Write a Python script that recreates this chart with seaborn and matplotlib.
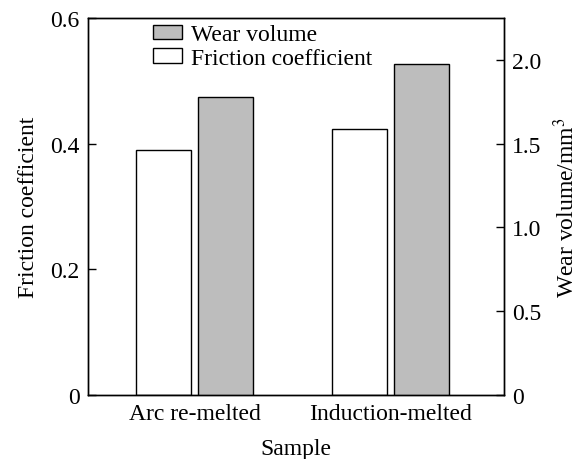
import matplotlib
matplotlib.use("Agg")
import matplotlib.pyplot as plt
import seaborn as sns
import pandas as pd
from matplotlib.patches import Patch

samples = ["Arc re-melted", "Induction-melted"]
friction = [0.390, 0.424]
wear = [1.775, 1.977]
metrics = ["Friction coefficient", "Wear volume"]

sns.set_theme(style="ticks")
plt.rcParams['font.family'] = ['Liberation Serif', 'DejaVu Serif']
plt.rcParams['mathtext.fontset'] = 'stix'
plt.rcParams['text.color'] = 'black'

df_f = pd.DataFrame({"Sample": samples, "value": friction, "Metric": metrics[0]})
df_w = pd.DataFrame({"Sample": samples, "value": wear, "Metric": metrics[1]})

fig = plt.figure(figsize=(5.79, 4.6), dpi=100)
ax = fig.add_axes([0.152, 0.139, 0.718, 0.820])
ax2 = ax.twinx()

pal = {metrics[0]: "white", metrics[1]: "#bdbdbd"}
sns.barplot(data=df_f, x="Sample", y="value", hue="Metric", hue_order=metrics,
            palette=pal, width=0.633, gap=0.113, dodge=True, edgecolor="black", linewidth=1.0,
            ax=ax, legend=False, order=samples)
sns.barplot(data=df_w, x="Sample", y="value", hue="Metric", hue_order=metrics,
            palette=pal, width=0.633, gap=0.113, dodge=True, edgecolor="black", linewidth=1.0,
            ax=ax2, legend=False, order=samples)

ax.set_xlim(-0.546, 1.577)
ax.set_ylim(0, 0.6)
ax2.set_ylim(0, 2.25)
ax.set_yticks([0, 0.2, 0.4, 0.6])
ax.set_yticklabels(["0", "0.2", "0.4", "0.6"])
ax2.set_yticks([0, 0.5, 1.0, 1.5, 2.0])
ax2.set_yticklabels(["0", "0.5", "1.0", "1.5", "2.0"])

fs = 17
ax.tick_params(axis="y", direction="in", length=6, width=1, labelsize=fs, colors="black", pad=6)
ax2.tick_params(axis="y", direction="in", length=6, width=1, labelsize=fs, colors="black", pad=6)
ax.tick_params(axis="x", length=0, labelsize=fs, colors="black", pad=6)
ax.set_xlabel("Sample", fontsize=fs, color="black", labelpad=10)
ax.set_ylabel("Friction coefficient", fontsize=fs, color="black", labelpad=8)
ax2.set_ylabel("Wear volume/mm$^3$", fontsize=fs, color="black", labelpad=9)
for a in (ax, ax2):
    for s in a.spines.values():
        s.set_visible(True)
        s.set_color("black")
        s.set_linewidth(1.0)

handles = [Patch(facecolor="#bdbdbd", edgecolor="black", linewidth=1.0, label="Wear volume"),
           Patch(facecolor="white", edgecolor="black", linewidth=1.0, label="Friction coefficient")]
ax2.legend(handles=handles, loc="upper left", bbox_to_anchor=(0.122, 1.02), frameon=False,
           fontsize=fs, handlelength=1.25, handleheight=0.55, handletextpad=0.35,
           labelspacing=0.1, borderaxespad=0.2, labelcolor="black")

fig.savefig("out.png", dpi=100)
